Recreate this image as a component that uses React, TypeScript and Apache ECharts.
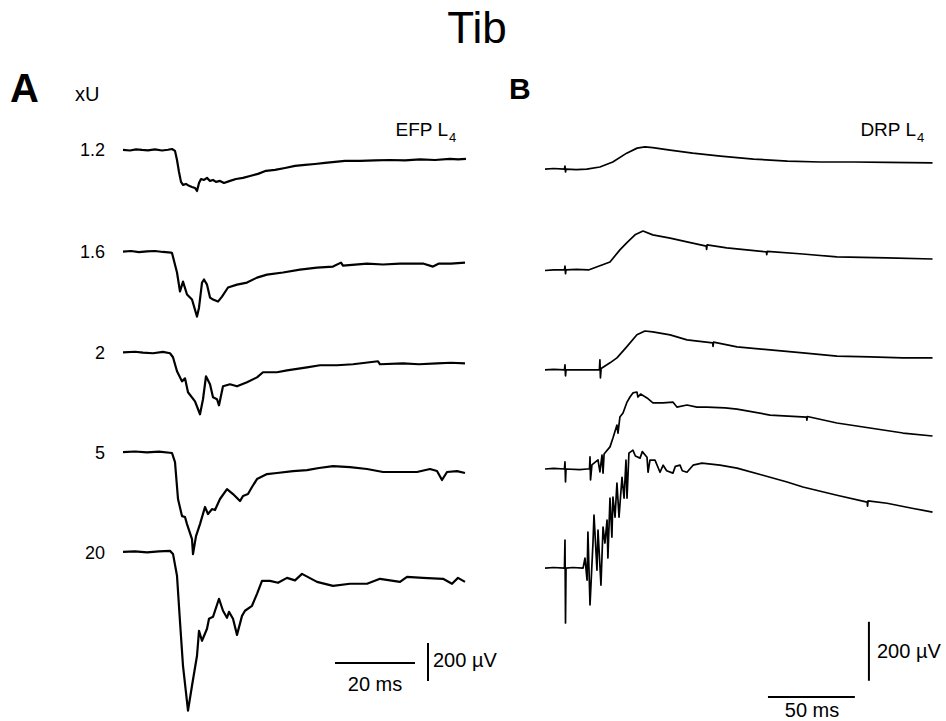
import React, { useEffect, useRef } from "react";
import * as echarts from "echarts";

type Pt = [number, number];

// ---- Panel A: EFP L4 (time ms, amplitude µV relative to baseline) ----
const EFP_LABELS = ["1.2", "1.6", "2", "5", "20"];

const EFP_12: Pt[] = [[0,0],[1.75,-3],[3.25,3],[4.75,0],[6.25,-2],[8,3],[9.75,-3],[11.25,1],[12.25,5],[13,-5],[13.5,-53],[14,-116],[14.5,-168],[15,-184],[15.75,-179],[16.5,-189],[17.25,-195],[18,-200],[18.5,-216],[19,-174],[19.5,-153],[20.25,-158],[21,-147],[21.75,-163],[22.5,-158],[23.25,-168],[24.25,-163],[25.25,-174],[26.75,-163],[28.25,-153],[30,-147],[31.75,-137],[33.75,-126],[35.75,-110],[38,-105],[40.5,-95],[43,-84],[45.5,-79],[48,-74],[50.5,-68],[53,-63],[55.5,-58],[59.25,-58],[63,-55],[66.75,-53],[70.5,-55],[74.25,-50],[78,-53],[81.75,-47],[83.75,-50],[85.75,-47]];

const EFP_16: Pt[] = [[0,0],[2,3],[4,-3],[6,1],[8,3],[10,-2],[12,-5],[12.25,-7],[13.5,-110],[14.25,-210],[15,-158],[16,-226],[17.25,-252],[18.5,-342],[19,-295],[19.75,-163],[20.25,-147],[21,-174],[21.75,-242],[22.5,-252],[23.75,-263],[24.75,-237],[26.25,-189],[28.5,-174],[31,-163],[33.5,-137],[36,-121],[40,-110],[44.25,-95],[48.5,-84],[52.5,-79],[54.5,-58],[55,-74],[61,-63],[65,-68],[69.25,-63],[75,-63],[77.5,-79],[79,-63],[82,-63],[85.5,-58]];

const EFP_2: Pt[] = [[0,0],[3,3],[5,-2],[7.5,-5],[10,2],[11.75,-5],[12.5,-26],[13.5,-100],[14.75,-153],[15.5,-137],[16.25,-210],[18,-258],[19.25,-326],[20,-247],[20.75,-126],[21.75,-168],[22.5,-237],[23.5,-247],[24,-279],[25,-179],[26.75,-168],[28.5,-179],[31,-158],[33.5,-132],[35,-105],[38.5,-105],[41,-95],[46,-79],[49.25,-68],[53.5,-68],[57.5,-63],[63.75,-47],[64.25,-63],[70,-58],[74,-63],[78.5,-58],[82,-55],[85.5,-58]];

const EFP_5: Pt[] = [[0,0],[3,3],[6,-2],[9,2],[12.25,-5],[13,-53],[13.75,-247],[14.75,-337],[15.5,-342],[16,-379],[17.25,-458],[17.5,-537],[18.25,-442],[19.25,-379],[20.5,-289],[21.25,-326],[22.25,-300],[23,-305],[24.25,-247],[26,-195],[27.5,-221],[29.25,-258],[30,-231],[31.25,-221],[32.25,-184],[33.5,-142],[36,-116],[38.5,-110],[42.5,-100],[46,-95],[49,-84],[52.5,-74],[56.75,-79],[61,-89],[65,-105],[69.25,-105],[73.5,-105],[76.75,-89],[78.5,-100],[79.75,-147],[81,-105],[83.5,-100],[85.5,-110]];

const EFP_20: Pt[] = [[0,0],[3,2],[6,-3],[9,2],[11.75,5],[12.5,-11],[13.5,-126],[14.25,-368],[15,-600],[16.25,-836],[17.25,-705],[18.5,-547],[19,-416],[19.75,-468],[21,-405],[21.5,-352],[22.5,-342],[24,-247],[25,-310],[26,-347],[26.5,-316],[27.5,-352],[28.5,-437],[29.75,-337],[30.5,-310],[32.25,-284],[33.5,-221],[34.75,-153],[36.75,-153],[38.75,-163],[41,-137],[43,-150],[44.75,-116],[48.5,-158],[52.5,-179],[56.75,-168],[61,-168],[64.25,-142],[69.25,-158],[71,-132],[75,-137],[80,-142],[82.25,-168],[83.75,-137],[85.5,-158]];

// ---- Panel B: DRP L4 ----
const DRP_12: Pt[] = [[0,0],[5,2],[11.2,0],[11.5,10],[11.8,-10],[12.1,0],[18,-2],[24,0],[31.6,7],[39,24],[47,54],[53,71],[57.5,75],[62,73],[72,64],[85,54],[101,44],[120,34],[139.5,27],[158.5,24],[177.5,24],[197,23],[223,21]];

const DRP_16: Pt[] = [[0,-2],[5,0],[11.2,0],[11.5,13],[11.8,-13],[12.1,0],[18,2],[25,0],[31.6,14],[37.4,27],[43.1,68],[47,92],[51.8,119],[56.4,132],[62,119],[72,108],[81.7,95],[92.8,81],[93,70],[93.3,85],[104.6,75],[127.4,61],[127.6,52],[127.9,63],[148.4,54],[167.9,44],[196.8,41],[223,37]];

const DRP_2: Pt[] = [[0,0],[5,2],[11.2,0],[11.5,17],[11.8,-20],[12.1,0],[20,0],[26,0],[31.3,0],[31.6,34],[31.9,-27],[32.3,5],[37.4,24],[41.4,41],[47,78],[52.9,119],[57.5,132],[62,129],[72,119],[81.7,102],[96.5,92],[96.7,80],[97,94],[110.5,78],[129.5,68],[148.4,58],[168,47],[187,44],[206,41],[223,41]];

const DRP_5: Pt[] = [[0,0],[5,2],[11.2,0],[11.5,24],[11.8,-44],[12.1,0],[20,-2],[24.2,0],[25.6,0],[25.9,41],[26.2,-37],[27,14],[30.5,31],[31.6,-10],[32.8,47],[33.4,-14],[34,51],[37.4,75],[39.1,105],[41.4,149],[42,122],[43.1,176],[44.9,190],[47.2,227],[48.9,244],[50.6,258],[52.9,261],[53.5,244],[55,254],[58.7,241],[62.1,224],[67.9,224],[73.6,227],[75.9,210],[81.7,217],[87.4,210],[93.2,210],[103.6,207],[110.5,203],[129.5,183],[150.5,176],[150.7,166],[151,178],[168,156],[187,139],[206,122],[223,112]];

const DRP_20: Pt[] = [[0,0],[5,2],[11.2,0],[11.5,95],[11.8,-186],[12.1,0],[16,2],[21.9,0],[23,34],[24.2,-41],[24.7,122],[25.9,-125],[27.6,85],[28.2,180],[29.9,-7],[30.5,129],[32.2,-58],[33.4,139],[34.5,85],[35.7,163],[36.2,34],[37.4,237],[38.5,105],[39.1,241],[40.3,173],[41.4,288],[42.6,173],[44.3,308],[45.5,237],[46.6,366],[47.2,237],[48.3,390],[50.6,400],[52,380],[54.7,373],[56,395],[58.7,376],[59.3,325],[60.4,366],[63.3,366],[66.2,325],[68,349],[70,330],[73.6,322],[75,345],[77.7,349],[79,330],[81.7,325],[85.2,349],[90.3,356],[100.7,349],[110.5,339],[125.4,315],[139.3,292],[148.4,275],[168,247],[185.4,224],[185.6,210],[185.9,228],[196.8,220],[211.2,203],[223,190]];

// scale bars
const SCALE_A_MS = 20;
const SCALE_B_MS = 50;
const SCALE_UV = 200;

// ---- layout (trace offsets in µV, axis ranges) ----
const EFP_TRACES = [EFP_12, EFP_16, EFP_2, EFP_5, EFP_20];
const DRP_TRACES = [DRP_12, DRP_16, DRP_2, DRP_5, DRP_20];
const OFFSETS_A = [0, -535, -1065, -1590, -2115];
const OFFSETS_B = [0, -342, -681, -1017, -1353];
const FONT = "'Liberation Sans', Arial, sans-serif";

export default function App() {
  const ref = useRef<HTMLDivElement>(null);
  useEffect(() => {
    if (!ref.current) return;
    const chart = echarts.init(ref.current, null, { renderer: "svg" });
    const lineStyle = (w: number) => ({ color: "#000", width: w, join: "round" });
    const series: any[] = [];
    EFP_TRACES.forEach((tr, i) => {
      series.push({
        type: "line", xAxisIndex: 0, yAxisIndex: 0, showSymbol: false, symbol: "none", clip: false,
        lineStyle: lineStyle(2.2), data: tr.map(([t, v]) => [t, v + OFFSETS_A[i]]),
      });
    });
    DRP_TRACES.forEach((tr, i) => {
      series.push({
        type: "line", xAxisIndex: 1, yAxisIndex: 1, showSymbol: false, symbol: "none", clip: false,
        lineStyle: lineStyle(1.7), data: tr.map(([t, v]) => [t, v + OFFSETS_B[i]]),
      });
    });
    // scale bars A
    const hA = [53, -2700];
    series.push({ type: "line", xAxisIndex: 0, yAxisIndex: 0, symbol: "none", clip: false, lineStyle: lineStyle(2),
      data: [[hA[0], hA[1]], [hA[0] + SCALE_A_MS, hA[1]]] });
    const vA = [76.25, -2595];
    series.push({ type: "line", xAxisIndex: 0, yAxisIndex: 0, symbol: "none", clip: false, lineStyle: lineStyle(2),
      data: [[vA[0], vA[1]], [vA[0], vA[1] - SCALE_UV]] });
    // scale bars B
    const hB = [128.3, -1790];
    series.push({ type: "line", xAxisIndex: 1, yAxisIndex: 1, symbol: "none", clip: false, lineStyle: lineStyle(2),
      data: [[hB[0], hB[1]], [hB[0] + SCALE_B_MS, hB[1]]] });
    const vB = [186.4, -1535];
    series.push({ type: "line", xAxisIndex: 1, yAxisIndex: 1, symbol: "none", clip: false, lineStyle: lineStyle(2),
      data: [[vB[0], vB[1]], [vB[0], vB[1] - SCALE_UV]] });

    const txt = (x: number, y: number, text: string, size: number, opts: any = {}) => ({
      type: "text", x, y,
      style: { text, fontSize: size, fontFamily: FONT, fill: "#000", align: "left", verticalAlign: "middle", ...opts },
    });
    const labelYs = [150, 252, 353, 453, 553];
    const graphic: any[] = [
      txt(477, 27, "Tib", 44, { align: "center" }),
      txt(10, 88, "A", 40, { fontWeight: "bold" }),
      txt(75, 94, "xU", 20),
      txt(509, 88, "B", 30, { fontWeight: "bold" }),
      txt(448, 129, "EFP L", 19, { align: "right" }),
      txt(449, 137, "4", 13),
      txt(916, 129, "DRP L", 19, { align: "right" }),
      txt(917, 137, "4", 13),
      txt(433, 660, "200 µV", 20),
      txt(375, 684, SCALE_A_MS + " ms", 20, { align: "center" }),
      txt(877, 651, "200 µV", 20),
      txt(812, 710, SCALE_B_MS + " ms", 20, { align: "center" }),
      ...EFP_LABELS.map((l, i) => txt(105, labelYs[i], l, 18, { align: "right" })),
    ];

    chart.setOption({
      animation: false,
      backgroundColor: "#fff",
      grid: [
        { left: 123, width: 344, top: 80, height: 640 },
        { left: 545, width: 391, top: 80, height: 640 },
      ],
      xAxis: [
        { type: "value", gridIndex: 0, min: 0, max: 86, show: false },
        { type: "value", gridIndex: 1, min: 0, max: 225, show: false },
      ],
      yAxis: [
        { type: "value", gridIndex: 0, min: -3000, max: 368, show: false },
        { type: "value", gridIndex: 1, min: -1868, max: 302, show: false },
      ],
      series,
      graphic,
    });
    return () => chart.dispose();
  }, []);
  return <div ref={ref} style={{ width: 946, height: 721, position: "absolute", left: 0, top: 0 }} />;
}
